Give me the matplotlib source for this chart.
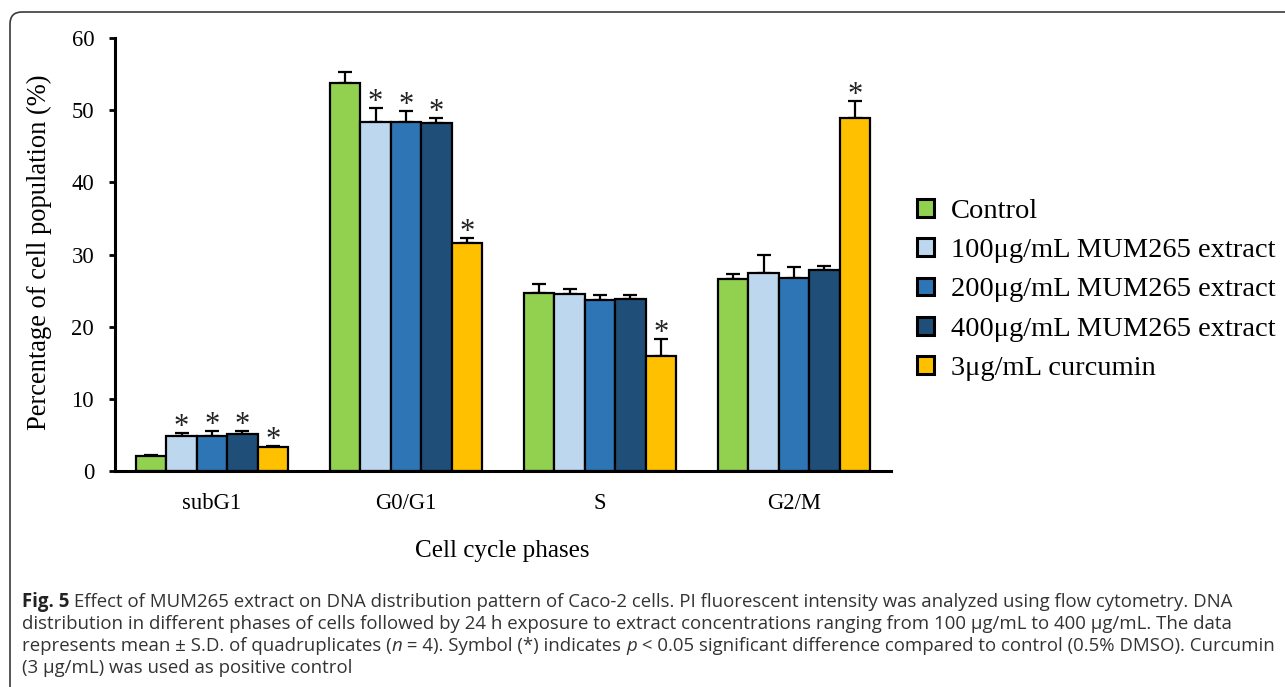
import matplotlib
matplotlib.use("Agg")
import matplotlib.pyplot as plt
import numpy as np
from matplotlib.patches import FancyBboxPatch

# ---------------- data ----------------
phases = ["subG1", "G0/G1", "S", "G2/M"]
series = ["Control", "100\u03bcg/mL MUM265 extract", "200\u03bcg/mL MUM265 extract",
          "400\u03bcg/mL MUM265 extract", "3\u03bcg/mL curcumin"]
control = [2.1, 53.8, 24.7, 26.6]
ext100 = [4.8, 48.4, 24.5, 27.5]
ext200 = [4.9, 48.3, 23.7, 26.8]
ext400 = [5.1, 48.2, 23.8, 27.8]
curcumin = [3.3, 31.6, 15.9, 48.9]
sd_control = [0.1, 1.5, 1.2, 0.7]
sd_ext100 = [0.5, 1.9, 0.7, 2.4]
sd_ext200 = [0.7, 1.6, 0.7, 1.5]
sd_ext400 = [0.4, 0.7, 0.6, 0.6]
sd_curcumin = [0.2, 0.7, 2.4, 2.4]
sig_control = [False, False, False, False]
sig_ext100 = [True, True, False, False]
sig_ext200 = [True, True, False, False]
sig_ext400 = [True, True, False, False]
sig_curcumin = [True, True, True, True]
colors = ["#92d050", "#bdd7ee", "#2e75b6", "#1f4e79", "#ffc000"]
yticks = [0, 10, 20, 30, 40, 50, 60]

values = [control, ext100, ext200, ext400, curcumin]
sds = [sd_control, sd_ext100, sd_ext200, sd_ext400, sd_curcumin]
sigs = [sig_control, sig_ext100, sig_ext200, sig_ext400, sig_curcumin]

serif = ["Liberation Serif", "DejaVu Serif"]

fig = plt.figure(figsize=(12.85, 6.87), dpi=100)
ax = fig.add_axes([115 / 1285, 1 - 471 / 687, (891 - 115) / 1285, (471 - 38) / 687])

x = np.arange(len(phases))
w = 0.157
for i, (vals, sd, sg) in enumerate(zip(values, sds, sigs)):
    pos = x + (i - 2) * w
    ax.bar(pos, vals, width=w, color=colors[i], edgecolor="black", linewidth=1.6,
           label=series[i], zorder=2)
    ax.errorbar(pos, vals, yerr=[np.zeros(len(vals)), sd], fmt="none", ecolor="black",
                elinewidth=1.6, capsize=5, capthick=1.6, zorder=1)
    for p, v, s, flag in zip(pos, vals, sd, sg):
        if flag:
            ax.text(p, v + s - 0.3, "*", ha="center", va="baseline", fontsize=22,
                    family=serif, color="#222222")

ax.set_xlim(-0.5, 3.5)
ax.set_ylim(0, 60)
ax.set_yticks(yticks)
ax.set_xticks(x)
ax.set_xticklabels(phases, family=serif, fontsize=16.3)
ax.set_yticklabels([str(t) for t in yticks], family=serif, fontsize=16.3)
ax.tick_params(axis="x", length=0, pad=16)
ax.tick_params(axis="y", length=4, width=2, direction="out", pad=11)
for s in ["top", "right"]:
    ax.spines[s].set_visible(False)
for s in ["left", "bottom"]:
    ax.spines[s].set_linewidth(2.2)
ax.set_ylabel("Percentage of cell population (%)", family=serif, fontsize=19.1)
ax.yaxis.set_label_coords(-0.081, 0.506)
fig.text(502 / 1285, 1 - 551 / 687, "Cell cycle phases", family=serif, fontsize=18.1,
         ha="center", va="center")

leg = fig.legend(loc="upper left", bbox_to_anchor=(917 / 1285, 1 - 199 / 687),
                 frameon=False, prop={"family": serif, "size": 20.5},
                 handlelength=0.58, handleheight=0.58, handletextpad=0.62,
                 labelspacing=0.5, borderpad=0, borderaxespad=0)
for h in leg.legend_handles:
    h.set_linewidth(2.2)

# ---------------- frame ----------------
frame = FancyBboxPatch((10, -30), 1320, 687 - 12 + 30, boxstyle="round,pad=0,rounding_size=12",
                       transform=None, fill=False, edgecolor="#3a3a3a", linewidth=1.2)
fig.patches.append(frame)

# ---------------- caption ----------------
cap_font = ["Open Sans", "DejaVu Sans"]
cap_size = 13.4
cap_color = "#333333"
lines = [
    [("Fig. 5", "bold"), (" Effect of MUM265 extract on DNA distribution pattern of Caco-2 cells. PI fluorescent intensity was analyzed using flow cytometry. DNA", "normal")],
    [("distribution in different phases of cells followed by 24 h exposure to extract concentrations ranging from 100 \u03bcg/mL to 400 \u03bcg/mL. The data", "normal")],
    [("represents mean \u00b1 S.D. of quadruplicates (", "normal"), ("n", "italic"), (" = 4). Symbol (*) indicates ", "normal"),
     ("p", "italic"), (" < 0.05 significant difference compared to control (0.5% DMSO). Curcumin", "normal")],
    [("(3 \u03bcg/mL) was used as positive control", "normal")],
]
renderer = fig.canvas.get_renderer()
ys = [602, 624, 646, 668]
for segs, yp in zip(lines, ys):
    xp = 22.0
    for txt, style in segs:
        kw = dict(family=cap_font, fontsize=cap_size, color=cap_color, va="center", ha="left",
                  transform=None)
        if style == "bold":
            kw["weight"] = "bold"
            kw["color"] = "#222222"
        if style == "italic":
            kw["style"] = "italic"
        t = fig.text(xp, 687 - yp, txt, **kw)
        bb = t.get_window_extent(renderer=renderer)
        xp = bb.x1

fig.savefig("out.png", dpi=100)
